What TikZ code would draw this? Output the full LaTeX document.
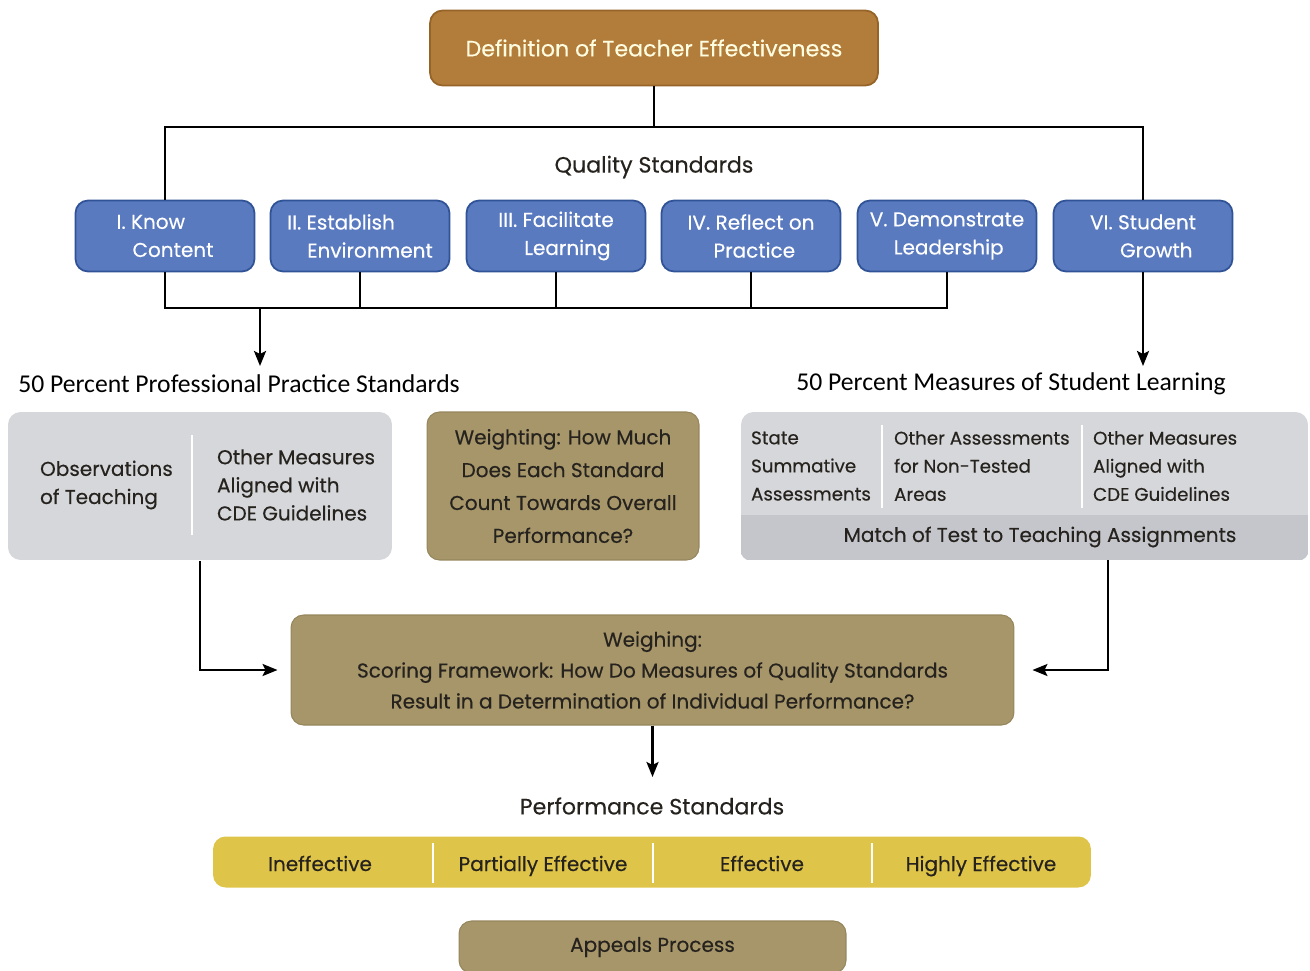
\documentclass[tikz,border=0pt]{standalone}
\usepackage{fontspec}
\setmainfont{Poppins}[FakeBold=0.35]
\newfontfamily\calfont{Carlito}
\usepackage{tikz}
\usetikzlibrary{arrows,arrows.meta,positioning}

\definecolor{topbrown}{RGB}{178,124,58}
\definecolor{topedge}{RGB}{150,100,40}
\definecolor{qblue}{RGB}{90,122,192}
\definecolor{qedge}{RGB}{48,82,150}
\definecolor{lgray}{RGB}{214,215,218}
\definecolor{dgray}{RGB}{196,198,203}
\definecolor{tan}{RGB}{166,150,106}
\definecolor{tanedge}{RGB}{150,134,92}
\definecolor{pyellow}{RGB}{222,196,72}
\definecolor{txt}{RGB}{38,34,30}

\begin{document}
\begin{tikzpicture}[>={Stealth[length=0.3cm,width=0.24cm,inset=0.06cm]}, x=0.02cm, y=-0.02cm, line width=1.4pt]
        \tikzset{block/.style={draw, rectangle, rounded corners=0.25cm, align=center, font=\fontsize{11.4}{16}\selectfont},
        topblock/.style={block, fill=topbrown, draw=topedge, line width=1pt, text=white!88!yellow, minimum width=8.96cm, minimum height=1.5cm, font=\fontsize{12.6}{14}\selectfont},
        qblock/.style={block, fill=qblue, draw=qedge, line width=1pt, text=white, align=left, minimum width=3.58cm, minimum height=1.42cm},
        gblock/.style={block, fill=lgray, draw=none, minimum height=2.96cm},
        tblock/.style={block, fill=tan, draw=tanedge, line width=0.6pt, text=txt},
        item/.style={align=left, text=txt, font=\fontsize{11.4}{16}\selectfont},
        smallitem/.style={item, font=\fontsize{10.4}{16}\selectfont},
        head/.style={text=txt, font=\fontsize{12.6}{14}\selectfont},
        pct/.style={text=black, font=\calfont\fontsize{14.6}{16}\selectfont},
        sep/.style={white, line width=1pt}
        }
        \useasboundingbox (0,0) rectangle (1310,970);

        \node [topblock] (def) at (654,48) {Definition of Teacher Effectiveness};
        \node [head] (quality) at (654,167) {Quality Standards};

        %% quality standards
        \node [qblock] (know)    at (165,236) {I. Know\\\hspace*{0.8em}Content};
        \node [qblock] (estab)   at (360,236) {II. Establish\\\hspace*{1em}Environment};
        \node [qblock] (facil)   at (556,236) {III. Facilitate\\\hspace*{1.3em}Learning};
        \node [qblock] (reflect) at (751,236) {IV. Reflect on\\\hspace*{1.3em}Practice};
        \node [qblock] (lead)    at (947,236) {V. Demonstrate\\\hspace*{1.2em}Leadership};
        \node [qblock] (growth)  at (1143,236) {VI. Student\\\hspace*{1.5em}Growth};

        \node [pct] (ppsLabel) at (239,384) {50 Percent Professional Practice Standards};
        \node [pct] (mslLabel) at (1011,384) {50 Percent Measures of Student Learning};

        %% professional practice
        \node [gblock, minimum width=7.68cm] (pps) at (200,486) {};
        \node [item, anchor=west] (obs) at (33,485) {Observations\\of Teaching};
        \node [item, anchor=west] (other) at (210,485) {Other Measures\\Aligned with\\CDE Guidelines};
        \node [tblock, minimum width=5.44cm, minimum height=2.96cm, font=\fontsize{11.4}{18.7}\selectfont] (weight) at (563,486) {Weighting: How Much\\Does Each Standard\\Count Towards Overall\\Performance?};

        %% student learning
        \node [gblock, minimum width=11.34cm] (msl) at (1024.5,486) {};
        \begin{scope}
            \clip [rounded corners=0.25cm] (msl.north west) rectangle (msl.south east);
            \fill [dgray] (741,515) rectangle (1308,560);
        \end{scope}
        \node [smallitem, anchor=west] (state) at (744,466) {State\\Summative\\Assessments};
        \node [smallitem, anchor=west] (nontest) at (887,466) {Other Assessments\\for Non-Tested\\Areas};
        \node [smallitem, anchor=west] (cde) at (1086,466) {Other Measures\\Aligned with\\CDE Guidelines};
        \node [item] (match) at (1040,537) {Match of Test to Teaching Assignments};

        \node [tblock, minimum width=14.46cm, minimum height=2.2cm, font=\fontsize{11.4}{17.6}\selectfont] (weigh) at (652.5,670) {Weighing:\\Scoring Framework: How Do Measures of Quality Standards\\Result in a Determination of Individual Performance?};
        \node [head] (perf) at (652,806) {Performance Standards};

        %% performance levels
        \node [block, draw=none, fill=pyellow, minimum width=17.56cm, minimum height=1.02cm] (levels) at (652,862) {};
        \node [item, anchor=base] (ineff) at (320,871) {Ineffective};
        \node [item, anchor=base] (partial) at (543,871) {Partially Effective};
        \node [item, anchor=base] (eff) at (762,871) {Effective};
        \node [item, anchor=base] (high) at (981,871) {Highly Effective};
        \node [tblock, minimum width=7.74cm, minimum height=1.04cm] (appeal) at (652.5,947) {Appeals Process};

        \coordinate (topBus) at (654,127);
        \coordinate (busL) at (165,308);
        \coordinate (busR) at (947,308);
        \coordinate (arrL) at (260,308);
        \coordinate (dropR) at (1108,560);

        %% separators
        \draw [sep] (192,435) -- (192,535);
        \draw [sep] (882,425) -- (882,508);
        \draw [sep] (1082,425) -- (1082,508);
        \foreach \x in {433,653,872}
            \draw [sep] (\x,843) -- (\x,883);

%% paths
        \draw (def) -- (topBus);
        \draw (know.north) |- (topBus) -| (growth.north);
        \draw (know.south) -- (busL) -- (busR) -- (lead.south);
        \foreach \n in {estab,facil,reflect}
            \draw (\n.south) -- (\n.south |- busL);
        \draw [->] (arrL) -- (260,366);
        \draw [->] (growth.south) -- (1143,366);
        \draw [->, shorten >=0.26cm] (pps.south) |- (weigh.west);
        \draw [->, shorten >=0.36cm] (dropR) |- (weigh.east);
        \draw [->] (weigh.south) -- (652.5,777);
\end{tikzpicture}
\end{document}
